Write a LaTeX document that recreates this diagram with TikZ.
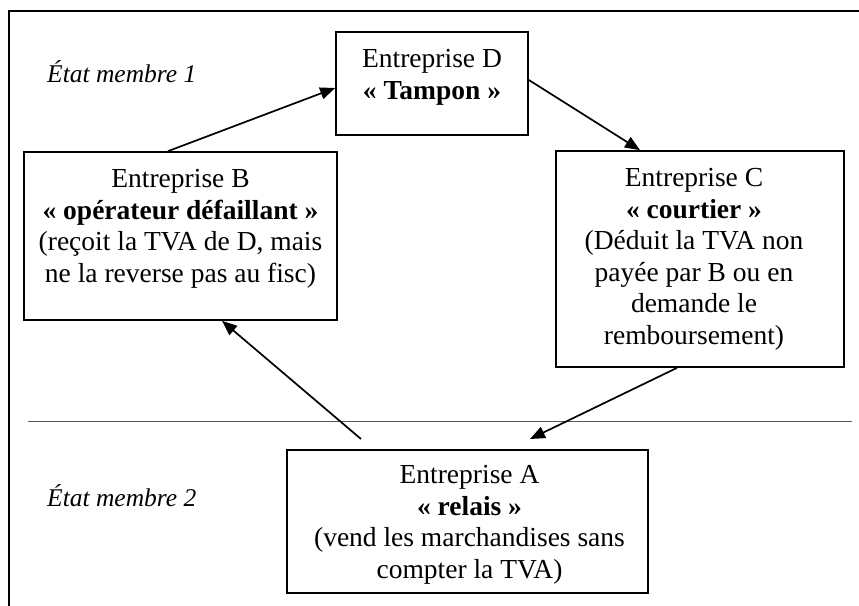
\documentclass[tikz,border=0pt]{standalone}
\usepackage{fontspec}
\setmainfont{Liberation Serif}
\usetikzlibrary{arrows.meta,calc}
\begin{document}
\begin{tikzpicture}[x=1pt,y=-1pt,
  box/.style={draw=black, line width=1.7pt, rectangle, inner sep=0pt},
  txt/.style={align=center, inner sep=0pt, anchor=north, font=\fontsize{27.5}{31.5}\selectfont},
  lbl/.style={inner sep=0pt, anchor=base west, font=\fontsize{25.5}{29}\selectfont\itshape},
  arr/.style={line width=1.7pt, -{Triangle[length=15pt,width=12pt]}}
]
\useasboundingbox (0,0) rectangle (859,605);
% frame
\draw[line width=2pt] (9,606) -- (9,11) -- (860,11);
% separator
\draw[gray!70!black, line width=1pt] (28,421) -- (852,421);
% boxes
\node[box, minimum width=192pt, minimum height=103pt] (D) at (432,83.5) {};
\node[box, minimum width=313pt, minimum height=168pt] (B) at (180.5,236) {};
\node[box, minimum width=288pt, minimum height=216pt] (C) at (700,259) {};
\node[box, minimum width=361pt, minimum height=143pt] (A) at (467.5,521.5) {};
% texts
\node[txt] (Dt) at ($(D.north)+(0,18)$) {Entreprise D\\\textbf{« Tampon »}};
\node[txt] (Bt) at ($(B.north)+(0,18)$) {Entreprise B\\\textbf{« opérateur défaillant »}\\(reçoit la TVA de D, mais\\ne la reverse pas au fisc)};
\node[txt] (Ct) at ($(C.north)+(-6,18)$) {Entreprise C\\\textbf{« courtier »}\\(Déduit la TVA non\\payée par B ou en\\demande le\\remboursement)};
\node[txt] (At) at ($(A.north)+(2,16)$) {Entreprise A\\\textbf{« relais »}\\(vend les marchandises sans\\compter la TVA)};
% labels
\node[lbl] (L1) at (47,82) {État membre 1};
\node[lbl] (L2) at (47,506) {État membre 2};
% connectors
\coordinate (aB) at (361,439);
\coordinate (cA) at (530,439);
\draw[arr] (aB) -- (B.south -| 222,0);
\draw[arr] (B.north -| 168,0) -- (D.west |- 0,88);
\draw[arr] (D.east |- 0,80) -- (C.north -| 640,0);
\draw[arr] (C.south -| 677,0) -- (cA);
\end{tikzpicture}
\end{document}
